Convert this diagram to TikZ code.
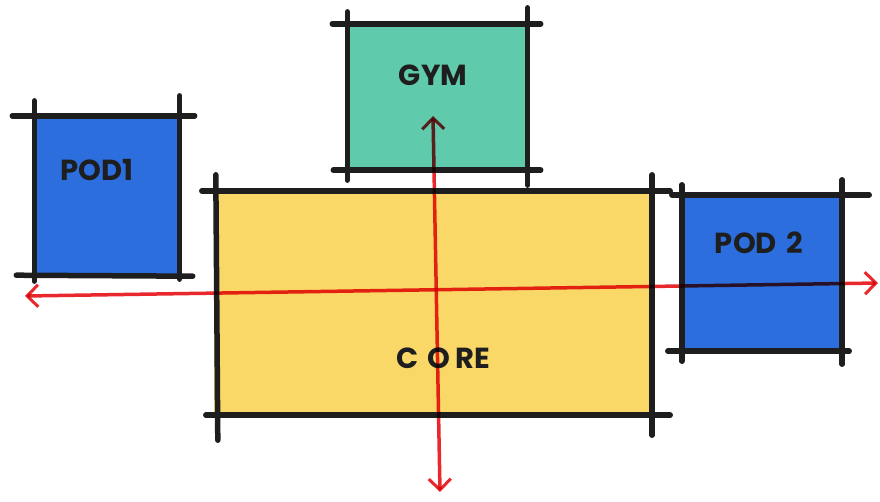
\documentclass[tikz,border=0pt]{standalone}
\usepackage{fontspec}
\setmainfont{Poppins}
\usetikzlibrary{arrows.meta}
\definecolor{podblue}{RGB}{44,110,222}
\definecolor{gymteal}{RGB}{96,202,172}
\definecolor{coreyel}{RGB}{250,216,104}
\definecolor{arrred}{RGB}{232,40,44}
\definecolor{ink}{RGB}{30,30,30}
\begin{document}
\begin{tikzpicture}[x=1pt,y=-1pt,
  box/.style={rectangle,inner sep=0pt,draw=none},
  wall/.style={draw=ink,line width=5.5pt,line cap=round},
  lbl/.style={font=\fontsize{29}{31}\selectfont\bfseries,text=ink,inner sep=0pt},
  axis/.style={draw=arrred,line width=3.5pt,line cap=round,
    {Straight Barb[length=11pt,width=22pt,line width=3pt]}-{Straight Barb[length=11pt,width=22pt,line width=3pt]},
    blend mode=multiply}]
\useasboundingbox (0,0) rectangle (880,501);
% fills
\node[box,fill=podblue,minimum width=147pt,minimum height=158pt] (pod1) at (108,195) {};
\node[box,fill=gymteal,minimum width=183pt,minimum height=146pt] (gym) at (437,97) {};
\node[box,fill=coreyel,minimum width=440pt,minimum height=224pt] (core) at (434,303) {};
\node[box,fill=podblue,minimum width=162pt,minimum height=154pt] (pod2) at (763,272) {};
% labels
\node[lbl] (pod1lbl) at (97,170) {POD1};
\node[lbl] (gymlbl) at (433,75) {GYM};
\node[lbl] (corelbl) at (443,358) {C\,\,O\,RE};
\node[lbl] (pod2lbl) at (759,243) {POD\,\,2};
% POD1 walls
\draw[wall] ([xshift=-22pt]pod1.north west) -- ([xshift=13pt]pod1.north east);
\draw[wall] ([xshift=-18pt,yshift=-1pt]pod1.south west) -- ([xshift=11pt,yshift=-2pt]pod1.south east);
\draw[wall] ([yshift=15pt]pod1.north west) -- ([yshift=-7pt]pod1.south west);
\draw[wall] ([xshift=-2pt,yshift=20pt]pod1.north east) -- ([xshift=-2pt,yshift=-5pt]pod1.south east);
% GYM walls
\draw[wall] ([xshift=-13pt]gym.north west) -- ([xshift=12pt]gym.north east);
\draw[wall] ([xshift=-12pt]gym.south west) -- ([xshift=12pt]gym.south east);
\draw[wall] ([xshift=2pt,yshift=12pt]gym.north west) -- ([xshift=2pt,yshift=-10pt]gym.south west);
\draw[wall] ([xshift=-1pt,yshift=16pt]gym.north east) -- ([xshift=-1pt,yshift=-15pt]gym.south east);
% CORE walls
\draw[wall] ([xshift=-12pt]core.north west) -- ([xshift=16pt]core.north east);
\draw[wall] ([xshift=-8pt]core.south west) -- ([xshift=16pt]core.south east);
\draw[wall] ([xshift=2pt,yshift=16pt]core.north west) -- ([xshift=4pt,yshift=-25pt]core.south west);
\draw[wall] ([xshift=-2pt,yshift=16pt]core.north east) -- ([xshift=-2pt,yshift=-20pt]core.south east);
% POD2 walls
\draw[wall] ([xshift=-10pt]pod2.north west) -- ([xshift=25pt]pod2.north east);
\draw[wall] ([xshift=-14pt,yshift=-2pt]pod2.south west) -- ([xshift=5pt,yshift=-2pt]pod2.south east);
\draw[wall] ([yshift=10pt]pod2.north west) -- ([yshift=-12pt]pod2.south west);
\draw[wall] ([xshift=-2pt,yshift=15pt]pod2.north east) -- ([xshift=-2pt,yshift=-15pt]pod2.south east);
% axes
\coordinate (west) at (25,296);
\coordinate (east) at (878,283);
\coordinate (north) at (433,116);
\coordinate (south) at (440,492);
\draw[axis] (west) -- (east);
\draw[axis] (north) -- (south);
\end{tikzpicture}
\end{document}
